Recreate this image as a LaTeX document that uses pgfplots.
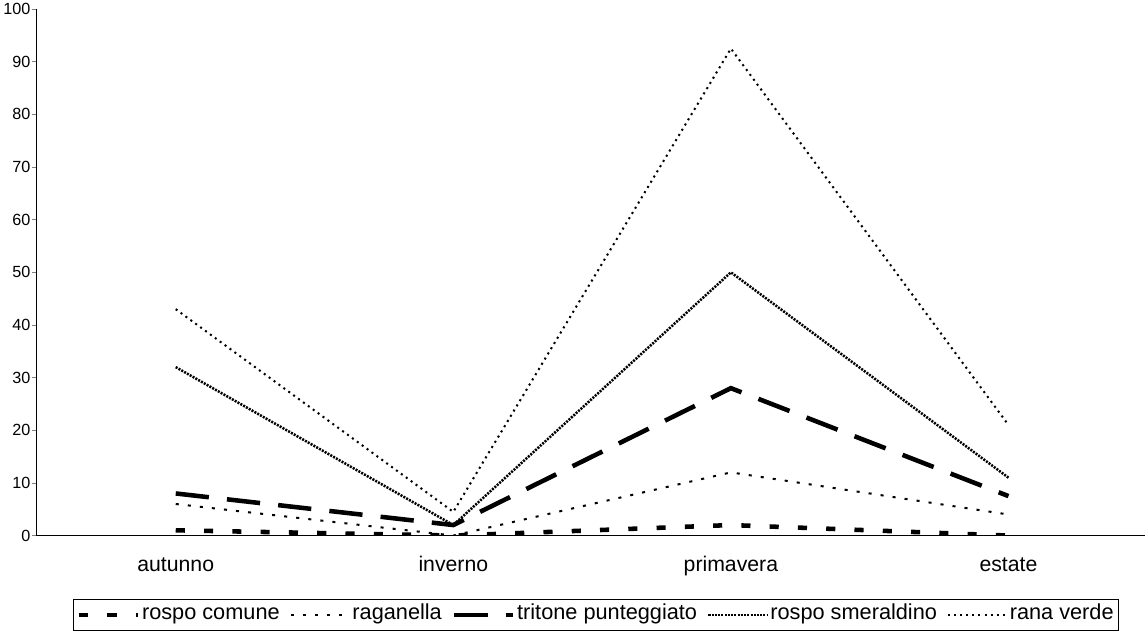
\documentclass[border=0pt]{standalone}
\usepackage{fontspec}
\setmainfont{Liberation Sans}
\usepackage{pgfplots}
\pgfplotsset{compat=1.18}

\begin{document}
\begin{tikzpicture}
\begin{axis}[
    scale only axis,
    width=1096pt, height=521pt,
    xmin=-0.5, xmax=3.49,
    ymin=0, ymax=100,
    axis x line=bottom, axis y line=left,
    axis line style={-, line width=1pt},
    xtick={0,1,2,3},
    xticklabels={autunno,inverno,primavera,estate},
    x tick style={draw=none},
    extra x ticks={-0.5,0.5,1.5,2.5},
    extra x tick labels={},
    extra x tick style={tick style={draw=black,line width=0.8pt}, tick align=outside, major tick length=8pt},
    ytick={0,10,...,100},
    y tick style={line width=0.8pt},
    tick align=outside, major tick length=5pt,
    x tick label style={font=\fontsize{21}{25}\selectfont, text height=15pt, text depth=5pt, yshift=-12pt},
    y tick label style={font=\fontsize{16}{19}\selectfont, xshift=2pt},
    /pgf/number format/assume math mode=true,
    legend columns=5,
    legend style={at={(0.505,-0.121)}, anchor=north, draw=black, line width=0.8pt,
        font=\fontsize{21.5}{25}\selectfont, inner sep=3pt,
        nodes={text height=15pt, text depth=5pt},
        /tikz/every even column/.append style={column sep=8pt}},
    legend image code/.code={\draw[#1] (0pt,0pt) -- (58pt,0pt);},
]
\addplot[black, line width=4.5pt, dash pattern=on 9pt off 19pt] coordinates {(0,1) (1,0) (2,2) (3,0)};
\addlegendentry{rospo comune}
\addplot[black, line width=2pt, dash pattern=on 3pt off 9pt] coordinates {(0,6) (1,0) (2,12) (3,4)};
\addlegendentry{raganella}
\addplot[black, line width=4.5pt, dash pattern=on 33pt off 18pt] coordinates {(0,8) (1,2) (2,28) (3,7.5)};
\addlegendentry{tritone punteggiato}
\addplot[black, line width=2.5pt, dash pattern=on 2pt off 1.2pt] coordinates {(0,32) (1,2) (2,50) (3,11)};
\addlegendentry{rospo smeraldino}
\addplot[black, line width=2pt, dash pattern=on 2pt off 4pt] coordinates {(0,43) (1,4.5) (2,92.5) (3,21)};
\addlegendentry{rana verde}
\end{axis}
\end{tikzpicture}
\end{document}
